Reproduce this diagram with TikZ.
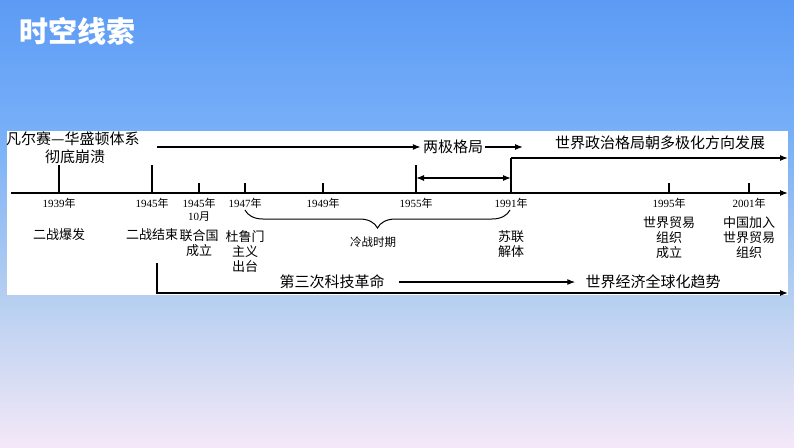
\documentclass[tikz,border=0pt]{standalone}
\usepackage{fontspec}
\setmainfont{Liberation Serif}
\newfontfamily\cjk{Noto Sans CJK SC}
\usetikzlibrary{positioning,calc,arrows.meta,decorations.pathreplacing}
\definecolor{bgtop}{HTML}{5C9BF5}
\definecolor{bgup}{HTML}{78B0F8}
\definecolor{bgmid}{HTML}{B8D0F0}
\definecolor{bgbot}{HTML}{F4E8F8}
\pgfdeclareverticalshading{bgshade}{100bp}{color(0bp)=(bgbot); color(25bp)=(bgbot); color(41bp)=(bgmid); color(60bp)=(bgup); color(75bp)=(bgtop); color(100bp)=(bgtop)}
\newcommand{\nian}{{\cjk 年}}

\begin{document}
\begin{tikzpicture}[x=1pt, y=-1pt, >={Latex[length=8pt,width=6pt]},
  every node/.style={font=\cjk\fontsize{13}{15}\selectfont, inner sep=2pt},
  axis/.style={line width=1.2pt},
  big/.style={font=\cjk\fontsize{15}{17}\selectfont},
  yr/.style={font=\fontsize{11}{13}\selectfont},
  ev/.style={anchor=north, align=center}]
\useasboundingbox (0,0) rectangle (794,447);
\shade[shading=bgshade] (0,0) rectangle (794,447);
\fill[white] (7,131) rectangle (788,295);
\node[anchor=west, text=white, font=\cjk\bfseries\fontsize{29}{33}\selectfont] (title) at (17,31) {时空线索};

% time axis and ticks
\coordinate (ax0) at (11,193);
\coordinate (ax1) at (788,193);
\draw[axis,->] (ax0) -- (ax1);
\foreach \n/\x/\h in {39/59/165, 45/152/165, 4510/199/183, 47/245/183, 49/323/183, 55/416/165, 91/511/158, 95/669/183, 01/749/183} {
  \coordinate (t\n) at (\x,193);
  \coordinate (h\n) at (\x,\h);
  \draw[axis] (t\n) -- (h\n);
}
\foreach \n/\x/\t in {39/59/1939, 45/152/1945, 4510/199/1945, 47/245/1947, 49/323/1949, 55/416/1955, 91/511/1991, 95/669/1995, 01/749/2001}
  \node[yr] (y\n) at (\x,203) {\t\nian};
\node[yr] (m4510) at (199,217) {10{\cjk 月}};

% events
\node[ev] (e39) at (59,226) {二战爆发};
\node[ev] (e45) at (152,226) {二战结束};
\node[ev] (e4510) at (199,227) {联合国\\成立};
\node[ev] (e47) at (245,228) {杜鲁门\\主义\\出台};
\node[ev] (e91) at (511,228) {苏联\\解体};
\node[ev] (e95) at (669,214) {世界贸易\\组织\\成立};
\node[ev] (e01) at (749,214) {中国加入\\世界贸易\\组织};

% cold war brace
\coordinate (b0) at (245,210);
\coordinate (b1) at (510,210);
\draw[line width=1pt, decorate, decoration={brace, mirror, amplitude=18pt}] (b0) -- (b1);
\node[font=\cjk\fontsize{11.5}{13}\selectfont] (lz) at (373,242) {冷战时期};

% political pattern
\node[big, anchor=west] (vs) at (4,139) {凡尔赛—华盛顿体系};
\node[big] (vs2) at (75,157) {彻底崩溃};
\coordinate (a0) at (157,147);
\node[big] (lj) at (453,147) {两极格局};
\coordinate (a1) at (523,147);
\draw[axis,->] (a0) -- (lj.west);
\draw[axis,->] (lj.east) -- (a1);
\coordinate (d0) at (416,178);
\coordinate (d1) at (511,178);
\draw[axis,<->] (d0) -- (d1);
\coordinate (m1) at (788,158);
\draw[axis,->] (h91) -- (m1);
\node[big] (dj) at (660,143) {世界政治格局朝多极化方向发展};

% economy
\coordinate (k0) at (157,263);
\coordinate (k1) at (157,293);
\coordinate (k2) at (788,293);
\draw[axis,->] (k0) -- (k1) -- (k2);
\node[big] (kj) at (332,282) {第三次科技革命};
\node[big] (qq) at (653,282) {世界经济全球化趋势};
\draw[axis,->] ([xshift=12pt]kj.east) -- ([xshift=-8pt]qq.west);
\end{tikzpicture}
\end{document}
